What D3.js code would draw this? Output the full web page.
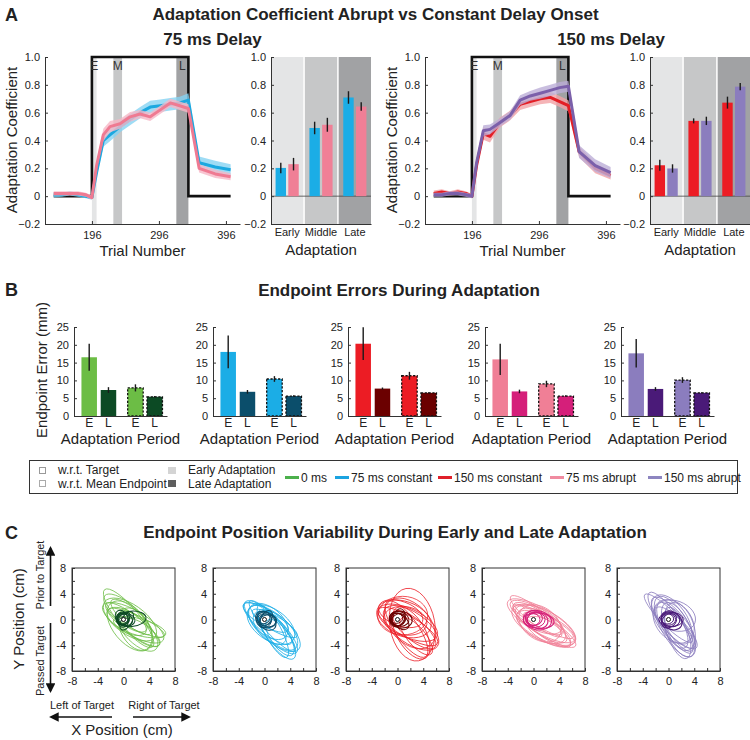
<!DOCTYPE html>
<html>
<head>
<meta charset="utf-8">
<title>Adaptation Coefficient Abrupt vs Constant Delay Onset</title>
<script src="https://d3js.org/d3.v7.min.js"></script>
<style>
  body { margin: 0; background: #fff; }
  svg { font-family: "Liberation Sans", Arial, sans-serif; }
</style>
</head>
<body>
<svg width="750" height="740"></svg>
<script>
// ---------- data ----------
// panel A, adaptation coefficient per trial bin
var trials = [139, 151, 163, 175, 187, 196, 203, 213, 223, 238, 253, 268, 283, 298, 313, 327, 340, 356, 380, 403];
var coef75Constant = [0.01, 0.01, 0.02, 0.01, 0.00, -0.01, 0.17, 0.40, 0.44, 0.50, 0.55, 0.60, 0.64, 0.65, 0.66, 0.67, 0.69, 0.24, 0.21, 0.19];
var sem75Constant  = [0.02, 0.015, 0.015, 0.015, 0.015, 0.015, 0.03, 0.045, 0.045, 0.04, 0.04, 0.04, 0.045, 0.045, 0.045, 0.045, 0.05, 0.045, 0.045, 0.04];
var coef75Abrupt   = [0.02, 0.02, 0.02, 0.02, 0.01, -0.01, 0.22, 0.44, 0.50, 0.52, 0.57, 0.59, 0.57, 0.62, 0.67, 0.65, 0.63, 0.20, 0.16, 0.14];
var sem75Abrupt    = [0.015, 0.015, 0.015, 0.015, 0.015, 0.015, 0.03, 0.045, 0.04, 0.035, 0.035, 0.03, 0.03, 0.03, 0.03, 0.03, 0.03, 0.03, 0.03, 0.025];
var coef150Constant = [0.02, 0.03, 0.02, 0.03, 0.02, 0.00, 0.22, 0.45, 0.43, 0.53, 0.58, 0.66, 0.68, 0.70, 0.71, 0.68, 0.65, 0.32, 0.20, 0.15];
var sem150Constant  = [0.02, 0.02, 0.015, 0.02, 0.015, 0.015, 0.03, 0.045, 0.045, 0.035, 0.035, 0.04, 0.04, 0.04, 0.04, 0.04, 0.04, 0.04, 0.035, 0.03];
var coef150Abrupt   = [0.01, 0.01, 0.02, 0.02, 0.01, 0.00, 0.24, 0.47, 0.48, 0.53, 0.58, 0.69, 0.72, 0.74, 0.76, 0.78, 0.79, 0.32, 0.22, 0.17];
var sem150Abrupt    = [0.015, 0.015, 0.015, 0.015, 0.015, 0.015, 0.03, 0.04, 0.035, 0.03, 0.03, 0.035, 0.035, 0.04, 0.04, 0.04, 0.04, 0.045, 0.045, 0.04];
// perturbation schedule (black step)
var stepTrials = [139, 196, 196, 340, 340, 403];
var stepValues = [0, 0, 1, 1, 0, 0];
// phase windows used for the bar plots
var phaseWindows = [{name: "E", from: 196, to: 203}, {name: "M", from: 228, to: 241}, {name: "L", from: 322, to: 340}];
var phases = ["Early", "Middle", "Late"];
var bar75Constant = [0.203, 0.49, 0.709], barErr75Constant = [0.038, 0.045, 0.045];
var bar75Abrupt   = [0.23, 0.513, 0.644], barErr75Abrupt   = [0.045, 0.05, 0.03];
var bar150Constant = [0.222, 0.541, 0.672], barErr150Constant = [0.04, 0.018, 0.043];
var bar150Abrupt   = [0.199, 0.541, 0.787], barErr150Abrupt   = [0.03, 0.03, 0.026];
var coefTicks = [-0.2, 0, 0.2, 0.4, 0.6, 0.8, 1.0];
var trialTicks = [196, 296, 396];

// panel B, endpoint error (mm)
var groups = ["0 ms", "75 ms constant", "150 ms constant", "75 ms abrupt", "150 ms abrupt"];
var errTargetEarly = [16.5, 18.0, 20.3, 15.9, 17.6];
var semTargetEarly = [3.8, 4.6, 4.6, 4.4, 4.0];
var errTargetLate  = [7.3, 6.8, 7.7, 6.9, 7.6];
var semTargetLate  = [0.8, 0.5, 0.3, 0.5, 0.5];
var errMeanEarly   = [7.9, 10.4, 11.3, 9.0, 10.1];
var semMeanEarly   = [1.0, 0.8, 1.1, 0.9, 0.8];
var errMeanLate    = [5.4, 5.6, 6.5, 5.6, 6.5];
var semMeanLate    = [0.2, 0.2, 0.2, 0.2, 0.2];
var errorTicks = [0, 5, 10, 15, 20, 25];
var periodLabels = ["E", "L", "E", "L"];

// panel C, endpoint covariance ellipses [cx, cy, semi-major, semi-minor, angle deg] in cm
var ellEarly0 = [[0.8,0.2,5.8,1.6,-50],[1.5,-0.5,5.4,1.9,-30],[1.0,0.0,4.8,2.3,-35],[2.5,-1.2,4.2,1.3,-15],[1.0,-1.0,4.6,2.6,-50],[1.2,0.4,4.0,1.3,-40],[2.2,-1.8,4.0,1.9,-45],[0.3,1.0,4.2,1.6,-40],[2.0,-0.5,4.8,1.1,-25],[1.8,-1.5,3.6,2.2,-60],[0.5,-0.3,3.4,1.6,-30],[2.8,-2.0,3.4,1.3,-35],[1.4,-0.8,5.2,1.4,-38]];
var ellLate0  = [[0,0,1.0,0.8,20],[0.2,0.1,1.3,0.9,-30],[-0.1,-0.1,0.9,1.1,0],[0.3,0,1.5,1.0,-10],[1.2,0.1,2.3,1.2,5],[0.1,0.2,1.1,0.7,45],[0,-0.2,0.7,0.6,0],[0.5,-0.2,1.6,0.8,60],[-0.3,0.3,1.2,0.9,-60]];
var ellEarly75c = [[1.0,-1.2,5.6,1.7,-45],[1.5,-1.4,5.0,2.1,-40],[0.5,-0.6,4.8,1.5,-40],[1.9,-2.3,4.6,1.6,-55],[1.0,-0.8,4.2,2.4,-35],[0.2,0.3,4.0,1.3,-30],[2.1,-1.7,3.9,1.9,-45],[1.3,-1.8,4.6,1.3,-62],[0.6,-0.3,3.6,2.1,-40],[1.6,-0.6,4.0,1.1,-30],[2.4,-2.8,3.3,1.4,-55],[0.8,-1.3,3.2,1.7,-45],[1.2,-1.0,5.2,1.2,-48]];
var ellLate75c  = [[0,0,1.1,0.9,0],[0.3,0,1.5,1.1,-20],[0.2,-0.2,1.8,1.2,-40],[0,0.1,0.9,0.7,30],[0.5,-0.3,1.4,1.0,10],[-0.1,0,1.2,1.3,0],[0.3,0.2,1.3,0.8,60]];
var ellEarly150c = [[2.3,-0.8,5.7,3.5,-80],[1.6,-0.5,5.0,2.2,-25],[2.1,-1.3,5.0,2.4,-35],[1.0,0.1,4.4,2.7,-20],[2.6,-1.6,4.2,1.6,-40],[0.8,0.6,3.9,3.0,0],[1.6,-1.1,5.3,1.6,-30],[2.1,-2.1,4.5,2.2,-60],[1.2,-0.2,3.4,2.2,-10],[0.5,0.9,3.6,1.9,-20],[2.9,-2.6,3.6,1.4,-50],[1.9,-0.6,4.7,3.0,-45],[1.4,-1.5,5.2,1.8,-55]];
var ellLate150c  = [[0,0,1.1,1.0,0],[0.3,0.1,1.5,1.1,-15],[0.1,-0.1,1.3,0.9,30],[0.5,0,1.8,1.3,-10],[-0.2,0.2,1.0,0.8,0],[0.4,-0.3,1.6,1.0,-40],[0.2,0.3,1.4,0.9,70]];
var ellEarly75a = [[1.2,-0.2,6.0,1.9,-30],[1.6,-0.9,5.5,2.3,-28],[1.0,-0.5,5.0,1.6,-35],[1.9,-1.3,5.0,1.9,-25],[0.5,0.3,4.7,1.5,-30],[2.1,-1.6,4.4,1.3,-35],[1.2,-1.0,4.2,2.1,-30],[1.5,-0.3,5.3,1.1,-28],[0.8,0.0,3.9,1.7,-25],[2.3,-1.9,3.9,1.6,-30],[1.0,-0.6,3.6,2.5,-35],[1.7,-1.1,5.7,1.4,-32],[0.4,0.5,5.0,1.2,-38]];
var ellLate75a  = [[0.3,0,1.5,1.2,0],[0.6,-0.1,2.2,1.5,-10],[0.2,0.1,1.2,1.0,20],[0.5,0,1.8,1.3,-20],[0,0,1.0,0.9,0],[0.8,-0.2,2.4,1.2,-5]];
var ellEarly150a = [[0.3,-0.5,5.7,1.5,-55],[1.0,-1.1,5.3,2.1,-60],[0.8,-0.5,5.0,1.7,-50],[1.5,-1.6,4.6,1.9,-65],[0.5,0.0,4.4,2.3,-55],[1.2,-1.3,4.4,1.4,-45],[1.8,-1.1,3.9,2.1,-70],[0.6,-0.9,4.0,1.6,-60],[1.0,0.6,3.3,2.3,-20],[1.4,-2.1,4.2,1.6,-70],[0.8,-0.3,3.8,2.7,-50],[1.6,-1.9,3.6,1.3,-55],[0.0,0.2,5.2,1.2,-45]];
var ellLate150a  = [[0,0,1.1,0.9,0],[0.3,0.1,1.5,1.2,-20],[0.4,0,1.9,1.1,0],[0.1,-0.2,1.3,1.0,40],[-0.2,0.1,1.0,0.8,0],[0.5,-0.2,1.7,1.3,-30]];
var posTicks = [-8, -4, 0, 4, 8];
var posMinorTicks = [-8, -6, -4, -2, 0, 2, 4, 6, 8];

// ---------- styles ----------
var ink = "#222";
var axisInk = "#333";
var phaseFill = {E: "#e4e5e6", M: "#c6c7c8", L: "#a1a2a4", Early: "#e4e5e6", Middle: "#c6c7c8", Late: "#a1a2a4"};
var pal = [
  {light: "#6cbd45", dark: "#0c4a24", legend: "#4cb04c"},
  {light: "#1badE6", dark: "#0b4e6b", legend: "#1ba3e0", line: "#1ba8e0", band: "#86d3f2"},
  {light: "#ec1c24", dark: "#6b0000", legend: "#e0202a", line: "#e31e25", band: "#f3a1a5"},
  {light: "#f07f96", dark: "#d51f7a", legend: "#f08ba0", line: "#ef7a92", band: "#f6b7c5"},
  {light: "#8b7dbe", dark: "#4a1a78", legend: "#8d85c0", line: "#7b60aa", band: "#bcaed7"}
];

var svg = d3.select("svg");

function fmtCoef(d) { return d === 0 ? "0" : d3.format(".1f")(d); }

function styleAxis(g) {
  g.selectAll("path, line").attr("stroke", axisInk).attr("stroke-width", 1);
  g.selectAll("text").attr("fill", ink).attr("font-size", 11).attr("font-family", null);
}

function label(x, y, txt, size, opts) {
  opts = opts || {};
  var t = svg.append("text")
    .attr("x", x).attr("y", y)
    .attr("text-anchor", opts.anchor || "middle")
    .attr("font-size", size)
    .attr("fill", ink)
    .text(txt);
  if (opts.bold) t.attr("font-weight", "bold");
  if (opts.rotate) t.attr("transform", "rotate(-90," + x + "," + y + ")");
  return t;
}

// ---------- panel A ----------
var yCoef = d3.scaleLinear().domain([-0.2, 1]).range([224, 57]);

function linePlot(x0, x1, series) {
  var x = d3.scaleLinear().domain([126, 417]).range([x0, x1]);
  var g = svg.append("g");

  g.selectAll("rect.win").data(phaseWindows).join("rect")
    .attr("x", function(d) { return x(d.from); })
    .attr("width", function(d) { return x(d.to) - x(d.from); })
    .attr("y", yCoef(1)).attr("height", yCoef(-0.2) - yCoef(1))
    .attr("fill", function(d) { return phaseFill[d.name]; });

  g.append("path")
    .datum(d3.zip(stepTrials, stepValues))
    .attr("d", d3.line().x(function(d) { return x(d[0]); }).y(function(d) { return yCoef(d[1]); }))
    .attr("fill", "none").attr("stroke", "#111").attr("stroke-width", 2.6);

  g.selectAll("text.win").data(phaseWindows).join("text")
    .attr("x", function(d) { return x((d.from + d.to) / 2); })
    .attr("y", 70).attr("text-anchor", "middle")
    .attr("font-size", 12).attr("fill", "#333")
    .text(function(d) { return d.name; });

  series.forEach(function(s) {
    var pts = trials.map(function(t, i) { return {t: t, m: s.mean[i], e: s.sem[i]}; });
    g.append("path").datum(pts)
      .attr("d", d3.area().x(function(d) { return x(d.t); })
        .y0(function(d) { return yCoef(d.m - d.e); })
        .y1(function(d) { return yCoef(d.m + d.e); }))
      .attr("fill", s.band).attr("opacity", 0.8);
    g.append("path").datum(pts)
      .attr("d", d3.line().x(function(d) { return x(d.t); }).y(function(d) { return yCoef(d.m); }))
      .attr("fill", "none").attr("stroke", s.line).attr("stroke-width", 3)
      .attr("stroke-linejoin", "round");
  });

  g.append("g").attr("transform", "translate(" + x0 + ",0)")
    .call(d3.axisLeft(yCoef).tickValues(coefTicks).tickFormat(fmtCoef).tickSizeInner(-3).tickSizeOuter(0).tickPadding(5))
    .call(styleAxis);
  g.append("g").attr("transform", "translate(0," + yCoef(-0.2) + ")")
    .call(d3.axisBottom(x).tickValues(trialTicks).tickSizeInner(-3).tickSizeOuter(0).tickPadding(7))
    .call(styleAxis);

  label((x0 + x1) / 2, 256, "Trial Number", 15);
  label(x0 - 28, 140, "Adaptation Coefficient", 15, {rotate: true});
}

function barPlot(x0, x1, series) {
  var xb = d3.scaleBand().domain(phases).range([x0, x1]).paddingInner(0.045);
  var xi = d3.scaleBand().domain([0, 1]).range([0, xb.bandwidth()]).paddingInner(0.18).paddingOuter(0.36);
  var g = svg.append("g");

  g.selectAll("rect.bg").data(phases).join("rect")
    .attr("x", function(d) { return xb(d); })
    .attr("width", xb.bandwidth())
    .attr("y", yCoef(1)).attr("height", yCoef(-0.2) - yCoef(1))
    .attr("fill", function(d) { return phaseFill[d]; });

  g.append("line").attr("x1", x0).attr("x2", x1)
    .attr("y1", yCoef(0)).attr("y2", yCoef(0))
    .attr("stroke", "#444").attr("stroke-width", 0.8);

  series.forEach(function(s, si) {
    var rows = phases.map(function(p, i) { return {p: p, v: s.mean[i], e: s.err[i]}; });
    g.selectAll(null).data(rows).join("rect")
      .attr("x", function(d) { return xb(d.p) + xi(si); })
      .attr("width", xi.bandwidth())
      .attr("y", function(d) { return yCoef(d.v); })
      .attr("height", function(d) { return yCoef(0) - yCoef(d.v); })
      .attr("fill", s.color);
    g.selectAll(null).data(rows).join("line")
      .attr("x1", function(d) { return xb(d.p) + xi(si) + xi.bandwidth() / 2; })
      .attr("x2", function(d) { return xb(d.p) + xi(si) + xi.bandwidth() / 2; })
      .attr("y1", function(d) { return yCoef(d.v - d.e); })
      .attr("y2", function(d) { return yCoef(d.v + d.e); })
      .attr("stroke", "#1a1a1a").attr("stroke-width", 1.4);
  });

  g.append("g").attr("transform", "translate(" + x0 + ",0)")
    .call(d3.axisLeft(yCoef).tickValues(coefTicks).tickFormat(fmtCoef).tickSizeInner(-3).tickSizeOuter(0).tickPadding(5))
    .call(styleAxis);
  g.append("g").attr("transform", "translate(0," + yCoef(-0.2) + ")")
    .call(d3.axisBottom(xb).tickSize(0).tickPadding(4))
    .call(styleAxis);

  label((x0 + x1) / 2, 255, "Adaptation", 15);
}

label(5, 21, "A", 18, {anchor: "start", bold: true});
label(375.5, 20, "Adaptation Coefficient Abrupt vs Constant Delay Onset", 17, {bold: true});
label(212.5, 45, "75 ms Delay", 17, {bold: true});
label(611, 45, "150 ms Delay", 17, {bold: true});

linePlot(45, 240, [
  {mean: coef75Constant, sem: sem75Constant, line: pal[1].line, band: pal[1].band},
  {mean: coef75Abrupt, sem: sem75Abrupt, line: pal[3].line, band: pal[3].band}
]);
barPlot(271, 371, [
  {mean: bar75Constant, err: barErr75Constant, color: pal[1].light},
  {mean: bar75Abrupt, err: barErr75Abrupt, color: pal[3].light}
]);
linePlot(425, 620, [
  {mean: coef150Constant, sem: sem150Constant, line: pal[2].line, band: pal[2].band},
  {mean: coef150Abrupt, sem: sem150Abrupt, line: pal[4].line, band: pal[4].band}
]);
barPlot(650, 750, [
  {mean: bar150Constant, err: barErr150Constant, color: pal[2].light},
  {mean: bar150Abrupt, err: barErr150Abrupt, color: pal[4].light}
]);

// ---------- panel B ----------
label(5, 296, "B", 18, {anchor: "start", bold: true});
label(399, 296, "Endpoint Errors During Adaptation", 17, {bold: true});
label(47, 370, "Endpoint Error (mm)", 15, {rotate: true});

var yErr = d3.scaleLinear().domain([0, 25]).range([416, 327]);
var bLefts = [74, 213, 348, 485, 621];
var bWidth = 93;

bLefts.forEach(function(left, gi) {
  var slot = d3.scaleLinear().domain([0, 3.4]).range([left + 15.2, left + 80.7]);
  var slots = [0, 1, 2.4, 3.4];
  var bars = [
    {v: errTargetEarly[gi], e: semTargetEarly[gi], fill: pal[gi].light, dashed: false},
    {v: errTargetLate[gi],  e: semTargetLate[gi],  fill: pal[gi].dark,  dashed: false},
    {v: errMeanEarly[gi],   e: semMeanEarly[gi],   fill: pal[gi].light, dashed: true},
    {v: errMeanLate[gi],    e: semMeanLate[gi],    fill: pal[gi].dark,  dashed: true}
  ];
  var bw = 15.5;
  var g = svg.append("g");
  g.selectAll("rect").data(bars).join("rect")
    .attr("x", function(d, i) { return slot(slots[i]) - bw / 2; })
    .attr("width", bw)
    .attr("y", function(d) { return yErr(d.v); })
    .attr("height", function(d) { return yErr(0) - yErr(d.v); })
    .attr("fill", function(d) { return d.fill; })
    .attr("stroke", function(d) { return d.dashed ? "#111" : "none"; })
    .attr("stroke-width", 1.3)
    .attr("stroke-dasharray", function(d) { return d.dashed ? "2.2,1.6" : null; });
  g.selectAll("line.err").data(bars).join("line")
    .attr("x1", function(d, i) { return slot(slots[i]); })
    .attr("x2", function(d, i) { return slot(slots[i]); })
    .attr("y1", function(d) { return yErr(d.v - d.e); })
    .attr("y2", function(d) { return yErr(d.v + d.e); })
    .attr("stroke", "#1a1a1a").attr("stroke-width", 1.4);

  g.append("g").attr("transform", "translate(" + left + ",0)")
    .call(d3.axisLeft(yErr).tickValues(errorTicks).tickSizeInner(-3).tickSizeOuter(0).tickPadding(5))
    .call(styleAxis);
  var xAxis = d3.scaleLinear().domain([0, bWidth]).range([left, left + bWidth]);
  g.append("g").attr("transform", "translate(0," + yErr(0) + ")")
    .call(d3.axisBottom(xAxis).tickValues([]).tickSizeOuter(0))
    .call(styleAxis);
  g.selectAll("text.per").data(periodLabels).join("text")
    .attr("x", function(d, i) { return slot(slots[i]); })
    .attr("y", 427).attr("text-anchor", "middle")
    .attr("font-size", 12).attr("fill", ink)
    .text(function(d) { return d; });
  label(left + bWidth / 2, 444, "Adaptation Period", 15);
});

// ---------- legend ----------
var lg = svg.append("g");
lg.append("rect").attr("x", 29.5).attr("y", 460.5).attr("width", 708).attr("height", 33)
  .attr("fill", "#fff").attr("stroke", "#333").attr("stroke-width", 1);
lg.append("rect").attr("x", 39.5).attr("y", 467.5).attr("width", 6).attr("height", 6)
  .attr("fill", "none").attr("stroke", "#999");
lg.append("rect").attr("x", 39.5).attr("y", 480.5).attr("width", 6).attr("height", 6)
  .attr("fill", "none").attr("stroke", "#555").attr("stroke-dasharray", "1,1");
lg.append("rect").attr("x", 168).attr("y", 467).attr("width", 8).attr("height", 7).attr("fill", "#d4d4d4");
lg.append("rect").attr("x", 168).attr("y", 480).attr("width", 8).attr("height", 7).attr("fill", "#5e5e5e");
label(58, 473.5, "w.r.t. Target", 12, {anchor: "start"});
label(58, 487.5, "w.r.t. Mean Endpoint", 12, {anchor: "start"});
label(188, 473.5, "Early Adaptation", 12, {anchor: "start"});
label(188, 487.5, "Late Adaptation", 12, {anchor: "start"});
var legendX = [285, 335, 438, 550, 648];
groups.forEach(function(name, i) {
  lg.append("line").attr("x1", legendX[i]).attr("x2", legendX[i] + 14)
    .attr("y1", 477.5).attr("y2", 477.5)
    .attr("stroke", pal[i].legend).attr("stroke-width", 3);
  label(legendX[i] + 16, 481.5, name, 12, {anchor: "start"});
});

// ---------- panel C ----------
label(5, 539, "C", 18, {anchor: "start", bold: true});
label(395, 538, "Endpoint Position Variability During Early and Late Adaptation", 17, {bold: true});

var defs = svg.append("defs");
defs.append("marker").attr("id", "arrow").attr("viewBox", "0 0 10 10")
  .attr("refX", 8).attr("refY", 5).attr("markerWidth", 6).attr("markerHeight", 6)
  .attr("orient", "auto-start-reverse")
  .append("path").attr("d", "M0,0L10,5L0,10z").attr("fill", "#111");

function arrow(x1, y1, x2, y2) {
  svg.append("line").attr("x1", x1).attr("y1", y1).attr("x2", x2).attr("y2", y2)
    .attr("stroke", "#111").attr("stroke-width", 1.6).attr("marker-end", "url(#arrow)");
}

label(24, 619, "Y Position (cm)", 15, {rotate: true});
label(44, 575, "Prior to Target", 11, {rotate: true});
label(44, 661, "Passed Target", 11, {rotate: true});
arrow(50.5, 606, 50.5, 548);
arrow(50.5, 623, 50.5, 691);
label(82, 709, "Left of Target", 11);
label(164, 709, "Right of Target", 11);
arrow(112, 717, 51, 717);
arrow(133, 717, 189, 717);
label(122, 735, "X Position (cm)", 15);

var cLefts = [72, 213, 346, 482, 617];
var cSize = 103;
var ellipseSets = [
  [ellEarly0, ellLate0], [ellEarly75c, ellLate75c], [ellEarly150c, ellLate150c],
  [ellEarly75a, ellLate75a], [ellEarly150a, ellLate150a]
];

cLefts.forEach(function(left, gi) {
  var x = d3.scaleLinear().domain([-8, 8]).range([left, left + cSize]);
  var y = d3.scaleLinear().domain([-8, 8]).range([568 + cSize, 568]);
  var g = svg.append("g");

  function drawEllipses(list, color, width) {
    g.selectAll(null).data(list).join("ellipse")
      .attr("transform", function(d) { return "translate(" + x(d[0]) + "," + y(d[1]) + ") rotate(" + (-d[4]) + ")"; })
      .attr("rx", function(d) { return x(d[2]) - x(0); })
      .attr("ry", function(d) { return y(0) - y(d[3]); })
      .attr("fill", "none").attr("stroke", color).attr("stroke-width", width);
  }
  drawEllipses(ellipseSets[gi][0], pal[gi].light, 0.75);
  drawEllipses(ellipseSets[gi][1], pal[gi].dark, 1);

  g.append("circle").attr("cx", x(0)).attr("cy", y(0)).attr("r", 2)
    .attr("fill", "#fff").attr("stroke", "#111").attr("stroke-width", 1);

  g.append("g").attr("transform", "translate(" + left + ",0)")
    .call(d3.axisLeft(y).tickValues(posMinorTicks).tickFormat(function(d) { return posTicks.indexOf(d) >= 0 ? d : ""; })
      .tickSizeInner(-3).tickSizeOuter(0).tickPadding(6))
    .call(styleAxis);
  g.append("g").attr("transform", "translate(0," + (568 + cSize) + ")")
    .call(d3.axisBottom(x).tickValues(posMinorTicks).tickFormat(function(d) { return posTicks.indexOf(d) >= 0 ? d : ""; })
      .tickSizeInner(-3).tickSizeOuter(0).tickPadding(6))
    .call(styleAxis);
  g.append("rect").attr("x", left).attr("y", 568).attr("width", cSize).attr("height", cSize)
    .attr("fill", "none").attr("stroke", axisInk).attr("stroke-width", 1);
});
</script>
</body>
</html>
